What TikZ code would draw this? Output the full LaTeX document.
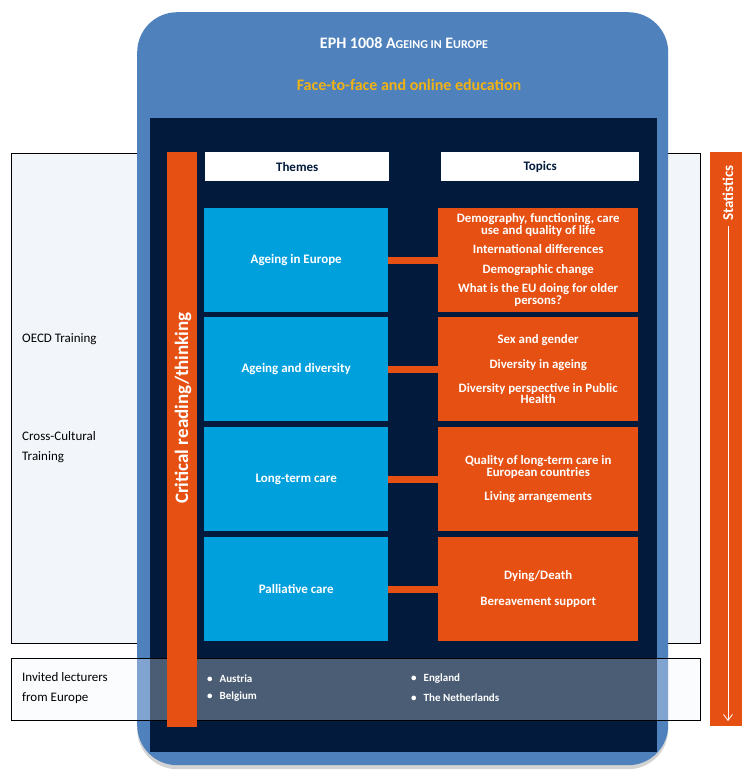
\documentclass[tikz,border=0pt]{standalone}
\usepackage{fontspec}
\setmainfont{Carlito}
\usepackage{tikz}
\usetikzlibrary{positioning, calc}
\usetikzlibrary{arrows.meta, shadows}
\definecolor{frameblue}{RGB}{79,129,189}
\definecolor{navy}{RGB}{2,27,60}
\definecolor{themeblue}{RGB}{0,160,220}
\definecolor{burnt}{RGB}{230,80,18}
\definecolor{gold}{RGB}{240,178,20}
\definecolor{paleblue}{RGB}{242,246,251}
\newcommand{\fakesc}[2]{#1{\fontsize{12}{13}\selectfont #2}}

\begin{document}
\begin{tikzpicture}[x=1pt, y=-1pt,
		themebox/.style={fill=themeblue, minimum width=184pt, minimum height=104pt, anchor=north west, inner sep=0pt, text=white, font=\fontsize{13}{14}\selectfont\bfseries},
		topicbox/.style={fill=burnt, minimum width=200pt, minimum height=104pt, anchor=north west, inner sep=0pt, text=white, align=center, font=\fontsize{12.8}{11.5}\selectfont\bfseries},
		headbox/.style={fill=white, minimum height=29pt, anchor=north west, inner sep=0pt, text=navy, font=\fontsize{13}{14}\selectfont\bfseries},
		sidelabel/.style={anchor=west, align=left, inner sep=0pt, font=\fontsize{13}{19.5}\selectfont},
		country/.style={anchor=west, inner sep=0pt, text=white, font=\fontsize{11}{12}\selectfont\bfseries}]
		\useasboundingbox (0,0) rectangle (752,777);
		% training band behind the course frame
		\node[draw=black, fill=paleblue, minimum width=689pt, minimum height=490pt, anchor=north west, inner sep=0pt] (band) at (11,153) {};
		% course frame
		\node[fill=frameblue, rounded corners=40pt, minimum width=531pt, minimum height=753pt, anchor=north west, inner sep=0pt,
			drop shadow={shadow xshift=0pt, shadow yshift=-4pt, opacity=0.35}] (frame) at (137,12) {};
		\node[fill=navy, minimum width=507pt, minimum height=634pt, anchor=north west, inner sep=0pt] (inner) at (150,118) {};
		\node[text=white, font=\fontsize{16}{18}\selectfont\bfseries] (title) at (404,43) {EPH 1008 \fakesc{A}{GEING IN} \fakesc{E}{UROPE}};
		\node[text=gold, font=\fontsize{16}{18}\selectfont\bfseries] (mode) at (409,85) {Face-to-face and online education};
		% headers
		\node[headbox, minimum width=184pt] (themes) at (205,152) {Themes};
		\node[headbox, minimum width=198pt] (topics) at (441,152) {Topics};
		% rows
		\node[themebox] (th1) at (204,208) {Ageing in Europe};
		\node[themebox] (th2) at (204,317) {Ageing and diversity};
		\node[themebox] (th3) at (204,427) {Long-term care};
		\node[themebox] (th4) at (204,537) {Palliative care};
		\node[topicbox] (tp1) at (438,208) {Demography, functioning, care\\use and quality of life\\[8pt]International differences\\[8pt]Demographic change\\[8pt]What is the EU doing for older\\persons?};
		\node[topicbox] (tp2) at (438,317) {Sex and gender\\[13pt]Diversity in ageing\\[12.5pt]Diversity perspective in Public\\Health};
		\node[topicbox] (tp3) at (438,427) {Quality of long-term care in\\European countries\\[12.5pt]Living arrangements};
		\node[topicbox] (tp4) at (438,537) {Dying/Death\\[14.5pt]Bereavement support};
		\foreach \i in {1,...,4} {
			\draw[burnt, line width=7pt] (th\i.east) -- (tp\i.west);
		}
		% lecturers band over the frame
		\node[draw=black, fill=paleblue, fill opacity=0.3, minimum width=689pt, minimum height=62pt, anchor=north west, inner sep=0pt] (lecturers) at (11,658) {};
		% critical reading bar
		\node[fill=burnt, minimum width=30pt, minimum height=575pt, anchor=north west, inner sep=0pt] (critical) at (167,152) {};
		\node[rotate=90, text=white, font=\fontsize{19}{21}\selectfont\bfseries] (crittext) at (183,408) {Critical reading/thinking};
		\node[sidelabel] (oecd) at (22,339) {OECD Training};
		\node[sidelabel] (cross) at (22,447) {Cross-Cultural\\Training};
		\node[sidelabel] (invited) at (22,688) {Invited lecturers\\from Europe};
		\node[country] (austria) at (207,679) {\textbullet\hspace{7pt}Austria};
		\node[country] (belgium) at (207,697) {\textbullet\hspace{7pt}Belgium};
		\node[country] (england) at (411,679) {\textbullet\hspace{7pt}England};
		\node[country] (nether) at (411,698) {\textbullet\hspace{7pt}The Netherlands};
		% statistics bar
		\node[fill=burnt, minimum width=32pt, minimum height=574pt, anchor=north west, inner sep=0pt] (stats) at (710,152) {};
		\node[rotate=90, anchor=east, text=white, font=\fontsize{15}{17}\selectfont\bfseries] (statstext) at (728,162) {Statistics};
		\coordinate (arrtop) at (728,226);
		\coordinate (arrbot) at (728,721);
		\draw[white, line width=0.8pt, -{Straight Barb[length=6pt, width=9pt]}] (arrtop) -- (arrbot);
	\end{tikzpicture}
\end{document}
